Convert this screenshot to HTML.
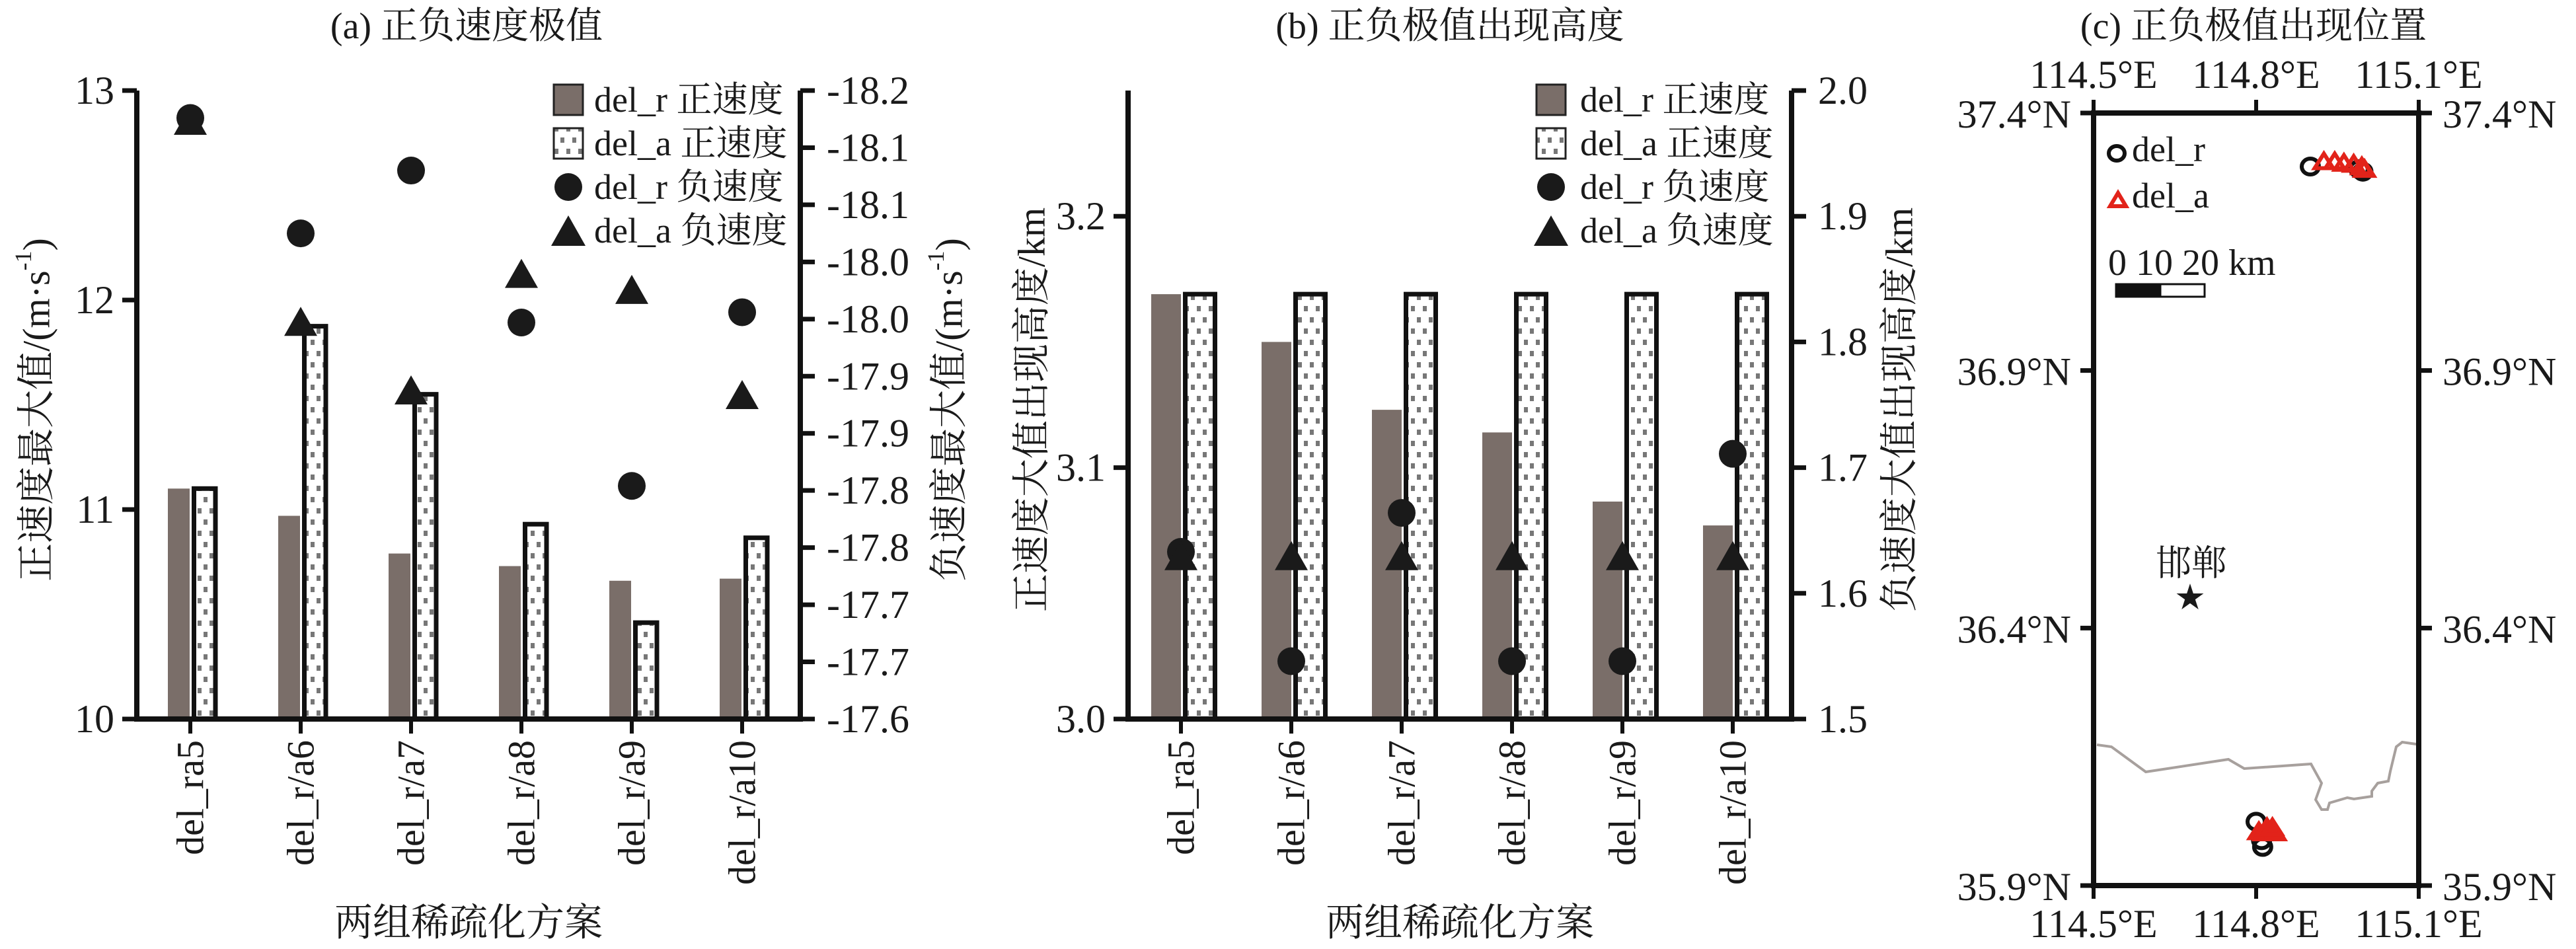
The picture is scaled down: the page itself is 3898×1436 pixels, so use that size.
<!DOCTYPE html>
<html><head><meta charset="utf-8">
<style>
html,body{margin:0;padding:0;background:#fff;}
svg{display:block;}
text{font-family:"Liberation Serif","Noto Serif CJK SC",serif;fill:#1a1a1a;}
</style></head>
<body>
<svg id="fig" width="3898" height="1436" viewBox="0 0 3898 1436" xmlns="http://www.w3.org/2000/svg">
<defs>
<pattern id="dots" width="18" height="34" patternUnits="userSpaceOnUse">
<rect width="18" height="34" fill="#fff"/>
<rect x="2" y="4" width="6" height="8" fill="#777"/>
<rect x="11" y="21" width="6" height="8" fill="#777"/>
</pattern>
</defs>
<g id="pa"></g>
<g id="pb"></g>
<g id="pc"></g>
</svg>
<script>
const cats = ['del_ra5','del_r/a6','del_r/a7','del_r/a8','del_r/a9','del_r/a10'];
// panel a
const aPosR = [11.10,10.97,10.79,10.73,10.66,10.67];
const aPosA = [11.10,11.875,11.55,10.93,10.46,10.865];
const aNegR = [-18.126,-18.025,-18.080,-17.947,-17.804,-17.956];
const aNegA = [-18.124,-17.948,-17.888,-17.990,-17.976,-17.884];
const aLeftTicks = [10,11,12,13];
const aRightTicks = [-17.6,-17.65,-17.7,-17.75,-17.8,-17.85,-17.9,-17.95,-18.0,-18.05,-18.1,-18.15];
const aRightLabels = ['-17.6','-17.7','-17.7','-17.8','-17.8','-17.9','-17.9','-18.0','-18.0','-18.1','-18.1','-18.2'];
// panel b
const bPosR = [3.169,3.150,3.123,3.114,3.0865,3.077];
const bPosA = [3.169,3.169,3.169,3.169,3.169,3.169];
const bNegR = [1.633,1.546,1.664,1.546,1.546,1.711];
const bNegA = [1.63,1.63,1.63,1.63,1.63,1.63];
const bLeftTicks = [3.0,3.1,3.2];
const bRightTicks = [1.5,1.6,1.7,1.8,1.9,2.0];
// panel c (lon, lat)
const cRLon = [114.90,114.99,114.997,114.80,114.812,114.81];
const cRLat = [37.296,37.291,37.286,36.024,35.975,35.988];
const cALon = [114.925,114.945,114.962,114.98,114.995,115.0,114.805,114.815,114.825,114.835,114.82,114.83];
const cALat = [37.307,37.307,37.304,37.302,37.297,37.292,36.006,36.004,36.004,36.004,36.014,36.014];
const cLatTicks = [35.9,36.4,36.9,37.4];
const cLonTicks = [114.5,114.8,115.1];
const cityLon = 114.678, cityLat = 36.459;

const NS='http://www.w3.org/2000/svg';
function mk(parent, tag, attrs){const e=document.createElementNS(NS,tag);for(const k in attrs)e.setAttribute(k,attrs[k]);parent.appendChild(e);return e;}
function txt(parent,x,y,s,size,anchor,extra){const e=mk(parent,'text',Object.assign({x:x,y:y,'font-size':size,'text-anchor':anchor||'start','dominant-baseline':'central'},extra||{}));e.textContent=s;return e;}

const Y0=1088, YT=137, H=Y0-YT;

function tri(g,cx,cy,hw,h,attrs){return mk(g,'polygon',Object.assign({points:`${cx-hw},${cy+h/2} ${cx+hw},${cy+h/2} ${cx},${cy-h/2}`},attrs));}

function drawBarPanel(g, X0, X1, xc, yL, yR, posR, posA, negR, negA, rOff, rW, aOff, aW, leftTicks, leftFmt, rightTicks, rightLabels, title, titleX, leftLab, leftLabX, rightLab, rightLabX, legSymX, legTxtX, pfx){
  let t=txt(g,titleX,40,title,56,'middle');
  
  
  for(let i=0;i<cats.length;i++){
    const x=xc(i);
    let r=mk(g,'rect',{x:x+rOff,y:yL(posR[i]),width:rW,height:Y0-yL(posR[i]),fill:'#7a6e69'});
    
    
    let a=mk(g,'rect',{x:x+aOff,y:yL(posA[i]),width:aW,height:Y0-yL(posA[i]),fill:'url(#dots)',stroke:'#111','stroke-width':7});
    
    
  }
  let ax=mk(g,'path',{d:`M${X0},${YT} V${Y0} H${X1} V${YT}`,fill:'none',stroke:'#111','stroke-width':8});
  
  
  for(let i=0;i<cats.length;i++){
    const x=xc(i);
    let tk=mk(g,'line',{x1:x,y1:Y0,x2:x,y2:Y0+22,stroke:'#111','stroke-width':6});
    
    
    let lb=txt(g,0,0,cats[i],58,'end',{transform:`translate(${x},1120) rotate(-90)`});
    
    
  }
  for(const v of leftTicks){
    const y=yL(v);
    let tk=mk(g,'line',{x1:X0-22,y1:y,x2:X0,y2:y,stroke:'#111','stroke-width':7});
    
    
    let lb=txt(g,X0-34,y,leftFmt(v),60,'end');
    
    
  }
  for(let k=0;k<rightTicks.length;k++){
    const y=yR(rightTicks[k]);
    let tk=mk(g,'line',{x1:X1,y1:y,x2:X1+22,y2:y,stroke:'#111','stroke-width':7});
    
    
    let lb=txt(g,X1+40,y,rightLabels[k],60,'start');
    
    
  }
  for(let i=0;i<cats.length;i++){
    const x=xc(i);
    let c=mk(g,'circle',{cx:x,cy:yR(negR[i]),r:21,fill:'#1a1a1a'});
    
    
    let tr=tri(g,x,yR(negA[i]),25,44,{fill:'#1a1a1a'});
    
    
  }
  let l1=txt(g,0,0,'',58,'middle',{transform:`translate(${leftLabX},620) rotate(-90)`});
  l1.innerHTML=leftLab;
  
  
  let l2=txt(g,0,0,'',58,'middle',{transform:`translate(${rightLabX},620) rotate(-90)`});
  l2.innerHTML=rightLab;
  
  
  let xt=txt(g,(X0+X1)/2,1396,'两组稀疏化方案',58,'middle');
  
  
  const rows=[151,217,283,349];
  const labs=['del_r 正速度','del_a 正速度','del_r 负速度','del_a 负速度'];
  let s1=mk(g,'rect',{x:legSymX-22,y:rows[0]-23,width:44,height:46,fill:'#7a6e69',stroke:'#222','stroke-width':3});
  
  
  let s2=mk(g,'rect',{x:legSymX-22,y:rows[1]-23,width:44,height:46,fill:'url(#dots)',stroke:'#222','stroke-width':3});
  
  
  let s3=mk(g,'circle',{cx:legSymX,cy:rows[2],r:21,fill:'#1a1a1a'});
  
  
  let s4=tri(g,legSymX,rows[3],26,46,{fill:'#1a1a1a'});
  
  
  for(let k=0;k<4;k++){
    let lt=txt(g,legTxtX,rows[k],labs[k],54,'start');
    
    
  }
}

const sup='<tspan baseline-shift="super" font-size="36">-1</tspan>';
const xa=i=>288+167*i;
const yaL=v=>Y0-(v-10)/3*H;
const yaR=v=>Y0-(v+17.6)/(-0.55)*H;
drawBarPanel(document.getElementById('pa'),207,1211,xa,yaL,yaR,aPosR,aPosA,aNegR,aNegA,-34,33,5.5,32.5,aLeftTicks,v=>String(v),aRightTicks,aRightLabels,'(a) 正负速度极值',706,'正速度最大值/(m·s'+sup+'<tspan>)</tspan>',55,'负速度最大值/(m·s'+sup+'<tspan>)</tspan>',1436,860,899,'a');
const xb=i=>1787+167*i;
const ybL=v=>Y0-(v-3)/0.25*H;
const ybR=v=>Y0-(v-1.5)/0.5*H;
drawBarPanel(document.getElementById('pb'),1707,2711,xb,ybL,ybR,bPosR,bPosA,bNegR,bNegA,-45,45,6.5,45,bLeftTicks,v=>v.toFixed(1),bRightTicks,bRightTicks.map(v=>v.toFixed(1)),'(b) 正负极值出现高度',2194,'正速度大值出现高度/km',1561,'负速度大值出现高度/km',2874,2347,2391,'b');

(function(){
  const g=document.getElementById('pc');
  const L=3168,R=3660,T=171,B=1340;
  const xc=lon=>L+(lon-114.5)/0.6*(R-L);
  const yc=lat=>T+(37.4-lat)/1.5*(B-T);
  let t=txt(g,3410,40,'(c) 正负极值出现位置',56,'middle');
  
  
  let bd=mk(g,'polyline',{points:'3173,1127 3195,1130 3247,1168 3372,1149 3396,1163 3497,1156 3513,1185 3504,1210 3513,1225 3522,1225 3525,1215 3552,1207 3562,1209 3589,1205 3589,1197 3598,1185 3614,1182 3617,1167 3626,1130 3635,1123 3663,1127',fill:'none',stroke:'#a7a09d','stroke-width':4});
  
  
  let fr=mk(g,'rect',{x:L,y:T,width:R-L,height:B-T,fill:'none',stroke:'#111','stroke-width':8});
  
  
  for(const lat of cLatTicks){
    const y=yc(lat);
    let a=mk(g,'line',{x1:L-20,y1:y,x2:L,y2:y,stroke:'#111','stroke-width':7});
    
    
    let b=mk(g,'line',{x1:R,y1:y,x2:R+20,y2:y,stroke:'#111','stroke-width':7});
    
    
    let l1=txt(g,L-34,y+2,lat.toFixed(1)+'°N',60,'end');
    
    
    let l2=txt(g,R+36,y+2,lat.toFixed(1)+'°N',60,'start');
    
    
  }
  for(const lon of cLonTicks){
    const x=xc(lon);
    let a=mk(g,'line',{x1:x,y1:T-20,x2:x,y2:T,stroke:'#111','stroke-width':6});
    
    
    let b=mk(g,'line',{x1:x,y1:B,x2:x,y2:B+20,stroke:'#111','stroke-width':6});
    
    
    let l1=txt(g,x,113,lon.toFixed(1)+'°E',60,'middle');
    
    
    let l2=txt(g,x,1398,lon.toFixed(1)+'°E',60,'middle');
    
    
  }
  for(let i=0;i<cRLon.length;i++){
    let c=mk(g,'ellipse',{cx:xc(cRLon[i]),cy:yc(cRLat[i]),rx:13,ry:12,fill:'none',stroke:'#111','stroke-width':6});
    
    
  }
  for(let i=0;i<cALon.length;i++){
    const filled = cALat[i] < 36.5;
    let tr=tri(g,xc(cALon[i]),yc(cALat[i]),14,22,{fill:filled?'#e2231a':'none',stroke:'#e2231a','stroke-width':6});
    
    
  }
  let st=txt(g,xc(cityLon),yc(cityLat),'★',44,'middle');
  
  
  let ct=txt(g,xc(cityLon)+2,yc(cityLat)-52,'邯郸',54,'middle');
  
  
  let lc=mk(g,'ellipse',{cx:3203,cy:232,rx:12,ry:11,fill:'none',stroke:'#111','stroke-width':6});
  
  
  let lt1=txt(g,3226,226,'del_r',54,'start');
  
  
  let la=tri(g,3205,302,12,20,{fill:'none',stroke:'#e2231a','stroke-width':6});
  
  
  let lt2=txt(g,3226,296,'del_a',54,'start');
  
  
  let sl=txt(g,3190,398,'0 10 20 km',56,'start');
  
  
  let sb1=mk(g,'rect',{x:3202,y:430,width:67,height:19,fill:'#111',stroke:'#111','stroke-width':3});
  
  
  let sb2=mk(g,'rect',{x:3269,y:430,width:67,height:19,fill:'#fff',stroke:'#111','stroke-width':3});
  
  
})();
</script>
</body></html>
